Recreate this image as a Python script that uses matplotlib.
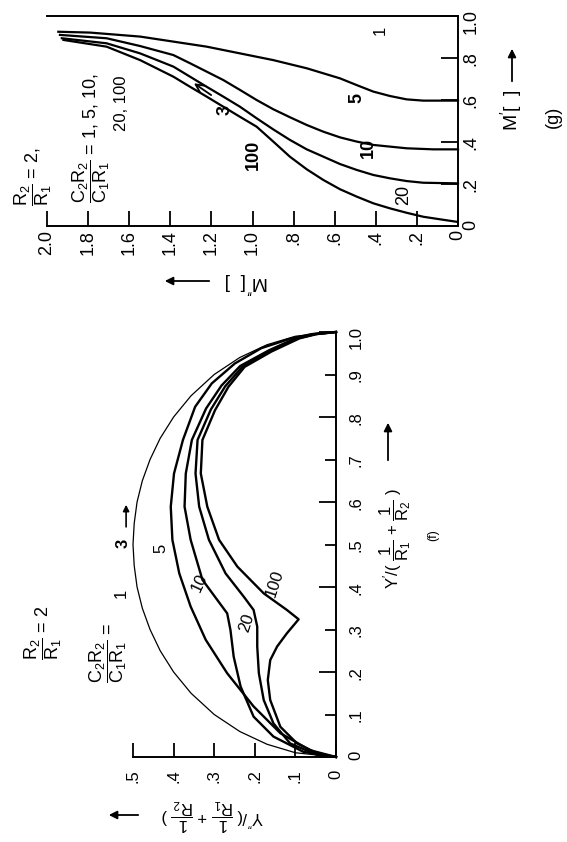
import numpy as np
import matplotlib.pyplot as plt

plt.rcParams['font.family'] = ['Liberation Sans', 'DejaVu Sans']
plt.rcParams['mathtext.fontset'] = 'custom'
plt.rcParams['mathtext.rm'] = 'Liberation Sans'
plt.rcParams['mathtext.it'] = 'Liberation Sans:italic'
plt.rcParams['mathtext.bf'] = 'Liberation Sans:bold'

# ---- panel (f): admittance plane, Y' (up) vs Y'' (to the left) ----
f1_yp = [0, 0.01, 0.03, 0.06, 0.10, 0.15, 0.20, 0.25, 0.30, 0.35, 0.40, 0.45, 0.50,
         0.55, 0.60, 0.65, 0.70, 0.75, 0.80, 0.85, 0.90, 0.94, 0.97, 0.99, 1.0]
f1_ypp = [0, 0.10, 0.17, 0.237, 0.30, 0.357, 0.40, 0.433, 0.458, 0.477, 0.49, 0.497, 0.50,
          0.497, 0.49, 0.477, 0.458, 0.433, 0.40, 0.357, 0.30, 0.237, 0.17, 0.10, 0]

f5_yp = [0, 0.016, 0.056, 0.119, 0.197, 0.276, 0.354, 0.432, 0.511, 0.589, 0.667,
         0.746, 0.824, 0.879, 0.926, 0.962, 0.985, 0.995, 1.0]
f5_ypp = [0, 0.064, 0.137, 0.203, 0.268, 0.321, 0.358, 0.386, 0.403, 0.407, 0.399,
          0.377, 0.347, 0.306, 0.249, 0.184, 0.11, 0.06, 0]

f10_yp = [0, 0.012, 0.048, 0.095, 0.166, 0.236, 0.299, 0.338, 0.369, 0.417, 0.511,
          0.589, 0.667, 0.746, 0.82, 0.874, 0.92, 0.957, 0.985, 0.995, 1.0]
f10_ypp = [0, 0.08, 0.154, 0.203, 0.235, 0.252, 0.26, 0.268, 0.292, 0.329, 0.358,
           0.373, 0.37, 0.355, 0.32, 0.282, 0.236, 0.165, 0.10, 0.055, 0]

f20_yp = [0, 0.005, 0.032, 0.079, 0.134, 0.197, 0.26, 0.307, 0.346, 0.377, 0.432,
          0.511, 0.589, 0.667, 0.746, 0.818, 0.872, 0.919, 0.955, 0.985, 0.995, 1.0]
f20_ypp = [0, 0.047, 0.113, 0.154, 0.178, 0.19, 0.194, 0.194, 0.203, 0.227, 0.272,
           0.313, 0.337, 0.346, 0.341, 0.308, 0.273, 0.23, 0.162, 0.095, 0.05, 0]

f100_yp = [0, 0.009, 0.032, 0.071, 0.134, 0.181, 0.228, 0.26, 0.291, 0.324, 0.346,
           0.385, 0.448, 0.511, 0.589, 0.667, 0.746, 0.816, 0.871, 0.918, 0.954,
           0.985, 0.995, 1.0]
f100_ypp = [0, 0.047, 0.096, 0.137, 0.162, 0.168, 0.162, 0.145, 0.121, 0.092, 0.121,
            0.178, 0.243, 0.288, 0.317, 0.333, 0.329, 0.298, 0.265, 0.225, 0.159,
            0.09, 0.048, 0]

f_xticks = [0, 0.1, 0.2, 0.3, 0.4, 0.5]
f_xlabels = ['0', '.1', '.2', '.3', '.4', '.5']
f_yticks_major = [0, 0.2, 0.4, 0.6, 0.8, 1.0]
f_ylabels_major = ['0', '.2', '.4', '.6', '.8', '1.0']
f_yticks_minor = [0.1, 0.3, 0.5, 0.7, 0.9]
f_ylabels_minor = ['.1', '.3', '.5', '.7', '.9']

# ---- panel (g): modulus plane, M' (up) vs M'' (to the left) ----
g1_mpp = [0.0, 2.0]
g1_mp = [1.0, 1.0]

g5_mpp = [1.945, 1.79, 1.547, 1.385, 1.223, 1.061, 0.899, 0.736, 0.574, 0.493,
          0.412, 0.331, 0.25, 0.169, 0.0]
g5_mp = [0.925, 0.921, 0.902, 0.878, 0.854, 0.822, 0.79, 0.751, 0.703, 0.671,
         0.64, 0.619, 0.603, 0.597, 0.597]

g10_mpp = [1.937, 1.71, 1.547, 1.385, 1.304, 1.223, 1.142, 1.061, 0.98, 0.899,
           0.818, 0.736, 0.655, 0.574, 0.493, 0.412, 0.25, 0.12, 0.0]
g10_mp = [0.91, 0.894, 0.857, 0.814, 0.775, 0.735, 0.695, 0.648, 0.60, 0.556,
          0.518, 0.481, 0.449, 0.422, 0.402, 0.386, 0.37, 0.365, 0.365]

g20_mpp = [1.928, 1.71, 1.547, 1.385, 1.304, 1.223, 1.142, 1.061, 0.98, 0.899,
           0.818, 0.736, 0.655, 0.574, 0.493, 0.412, 0.331, 0.25, 0.169, 0.0]
g20_mp = [0.894, 0.87, 0.822, 0.759, 0.711, 0.663, 0.616, 0.568, 0.513, 0.46,
          0.41, 0.365, 0.33, 0.295, 0.267, 0.243, 0.227, 0.214, 0.206, 0.203]

g100_mpp = [1.92, 1.71, 1.547, 1.385, 1.304, 1.223, 1.142, 1.061, 0.98, 0.899,
            0.818, 0.736, 0.655, 0.574, 0.493, 0.412, 0.331, 0.25, 0.169, 0.088, 0.006]
g100_mp = [0.886, 0.854, 0.79, 0.711, 0.663, 0.616, 0.568, 0.52, 0.473, 0.402,
           0.33, 0.27, 0.219, 0.175, 0.14, 0.108, 0.084, 0.063, 0.044, 0.032, 0.02]

g_xticks = [0, 0.2, 0.4, 0.6, 0.8, 1.0, 1.2, 1.4, 1.6, 1.8, 2.0]
g_xlabels = ['0', '.2', '.4', '.6', '.8', '1.0', '1.2', '1.4', '1.6', '1.8', '2.0']
g_yticks = [0, 0.2, 0.4, 0.6, 0.8, 1.0]
g_ylabels = ['0', '.2', '.4', '.6', '.8', '1.0']

W, H = 567, 842
fig = plt.figure(figsize=(W / 100, H / 100), dpi=100)


def fpos(x, y):
    # pixel position (from top-left) -> figure fraction
    return x / W, 1 - y / H


def axes_px(x0, y0, x1, y1):
    return fig.add_axes([x0 / W, 1 - y1 / H, (x1 - x0) / W, (y1 - y0) / H])


def arrow(x0, y0, x1, y1, style='-|>'):
    fig.add_artist(plt.matplotlib.patches.FancyArrowPatch(
        fpos(x0, y0), fpos(x1, y1), transform=fig.transFigure,
        arrowstyle=style, mutation_scale=12, lw=1.3, color='k'))


def style_axes(ax):
    ax.spines['left'].set_visible(False)
    ax.spines['top'].set_visible(False)
    ax.spines['right'].set_linewidth(1.4)
    ax.spines['bottom'].set_linewidth(1.4)
    ax.yaxis.tick_right()
    ax.patch.set_visible(False)


# ================= panel (g) =================
axg = axes_px(47, 16, 458, 226)
axg.set_xlim(2.0, 0)
axg.set_ylim(0, 1.0)
style_axes(axg)
axg.set_xticks(g_xticks)
axg.set_xticklabels(g_xlabels)
axg.set_yticks(g_yticks)
axg.set_yticklabels(g_ylabels)
axg.tick_params(axis='x', direction='in', length=11, width=1.3, pad=3,
                labelsize=13, labelrotation=90)
axg.tick_params(axis='y', direction='in', length=12, width=1.3, pad=3,
                labelsize=13, labelrotation=90)

axg.plot(g1_mpp, g1_mp, color='k', lw=1.4, clip_on=False)
for mpp, mp in [(g5_mpp, g5_mp), (g10_mpp, g10_mp), (g20_mpp, g20_mp), (g100_mpp, g100_mp)]:
    axg.plot(mpp, mp, color='k', lw=1.6, clip_on=False)

axg.text(0.38, 0.93, '1', rotation=90, ha='center', va='center', fontsize=12)
axg.text(0.493, 0.608, '5', rotation=90, ha='center', va='center', fontsize=13, fontweight='bold')
axg.text(0.436, 0.37, '10', rotation=90, ha='center', va='center', fontsize=13, fontweight='bold')
axg.text(0.266, 0.148, '20', rotation=90, ha='center', va='center', fontsize=13)
axg.text(0.996, 0.338, '100', rotation=90, ha='center', va='center', fontsize=13, fontweight='bold')
axg.text(1.134, 0.552, '3', rotation=90, ha='center', va='center', fontsize=13, fontweight='bold')
axg.annotate('', xy=(1.296, 0.687), xytext=(1.19, 0.616),
             arrowprops=dict(arrowstyle='->', lw=1.3, color='k', mutation_scale=14))

fig.text(*fpos(33, 177), r'$\dfrac{\mathrm{R_2}}{\mathrm{R_1}}$ = 2,', rotation=90,
         ha='center', va='center', fontsize=13)
fig.text(*fpos(91, 138), r'$\dfrac{\mathrm{C_2R_2}}{\mathrm{C_1R_1}}$ = 1, 5, 10,', rotation=90,
         ha='center', va='center', fontsize=13)
fig.text(*fpos(122, 103), '20, 100', rotation=90, ha='center', va='center', fontsize=12)

fig.text(*fpos(511, 110), r"$\mathrm{M'}$[  ]", rotation=90, ha='center', va='center', fontsize=14)
arrow(512, 84, 512, 46)
fig.text(*fpos(553, 117), '(g)', rotation=90, ha='center', va='center', fontsize=13)

fig.text(*fpos(247, 283), r"$\mathrm{M''}$[  ]", rotation=180, ha='center', va='center', fontsize=14)
arrow(212, 281, 162, 281)

# ================= panel (f) =================
axf = axes_px(133, 332, 336, 757)
axf.set_xlim(0.5, 0)
axf.set_ylim(0, 1.0)
style_axes(axf)
axf.set_xticks(f_xticks)
axf.set_xticklabels(f_xlabels)
axf.set_yticks(f_yticks_major)
axf.set_yticklabels(f_ylabels_major)
axf.set_yticks(f_yticks_minor, minor=True)
axf.set_yticklabels(f_ylabels_minor, minor=True)
axf.tick_params(axis='x', direction='in', length=10, width=1.3, pad=9,
                labelsize=12, labelrotation=90)
axf.tick_params(axis='y', which='major', direction='in', length=12, width=1.3, pad=9,
                labelsize=12, labelrotation=90)
axf.tick_params(axis='y', which='minor', direction='in', length=8, width=1.3, pad=9,
                labelsize=12, labelrotation=90)

axf.plot(f1_ypp, f1_yp, color='k', lw=0.9, clip_on=False)
for ypp, yp in [(f5_ypp, f5_yp), (f10_ypp, f10_yp), (f20_ypp, f20_yp), (f100_ypp, f100_yp)]:
    axf.plot(ypp, yp, color='k', lw=1.7, clip_on=False)

axf.text(0.53, 0.386, '1', rotation=90, ha='center', va='center', fontsize=12)
axf.text(0.525, 0.503, '3', rotation=90, ha='center', va='center', fontsize=12, fontweight='bold')
axf.annotate('', xy=(0.517, 0.60), xytext=(0.517, 0.535), annotation_clip=False,
             arrowprops=dict(arrowstyle='-|>', lw=1.2, color='k', mutation_scale=9))
axf.text(0.431, 0.491, '5', rotation=90, ha='center', va='center', fontsize=12)
axf.text(0.337, 0.409, '10', rotation=65, ha='center', va='center', fontsize=12)
axf.text(0.219, 0.315, '20', rotation=72, ha='center', va='center', fontsize=12)
axf.text(0.15, 0.409, '100', rotation=72, ha='center', va='center', fontsize=12)

fig.text(*fpos(43, 633), r'$\dfrac{\mathrm{R_2}}{\mathrm{R_1}}$ = 2', rotation=90,
         ha='center', va='center', fontsize=13)
fig.text(*fpos(108, 653), r'$\dfrac{\mathrm{C_2R_2}}{\mathrm{C_1R_1}}$ =', rotation=90,
         ha='center', va='center', fontsize=13)

fig.text(*fpos(395, 538), r"Y$'$/( $\dfrac{1}{\mathrm{R_1}}$ + $\dfrac{1}{\mathrm{R_2}}$ )",
         rotation=90, ha='center', va='center', fontsize=12)
arrow(388, 463, 388, 420)
fig.text(*fpos(433, 535), '(f)', rotation=90, ha='center', va='center', fontsize=9)

fig.text(*fpos(212, 815), r"Y$''$/( $\dfrac{1}{\mathrm{R_1}}$ + $\dfrac{1}{\mathrm{R_2}}$ )",
         rotation=180, ha='center', va='center', fontsize=12)
arrow(141, 815, 106, 815)

fig.savefig('out.png', dpi=100)
